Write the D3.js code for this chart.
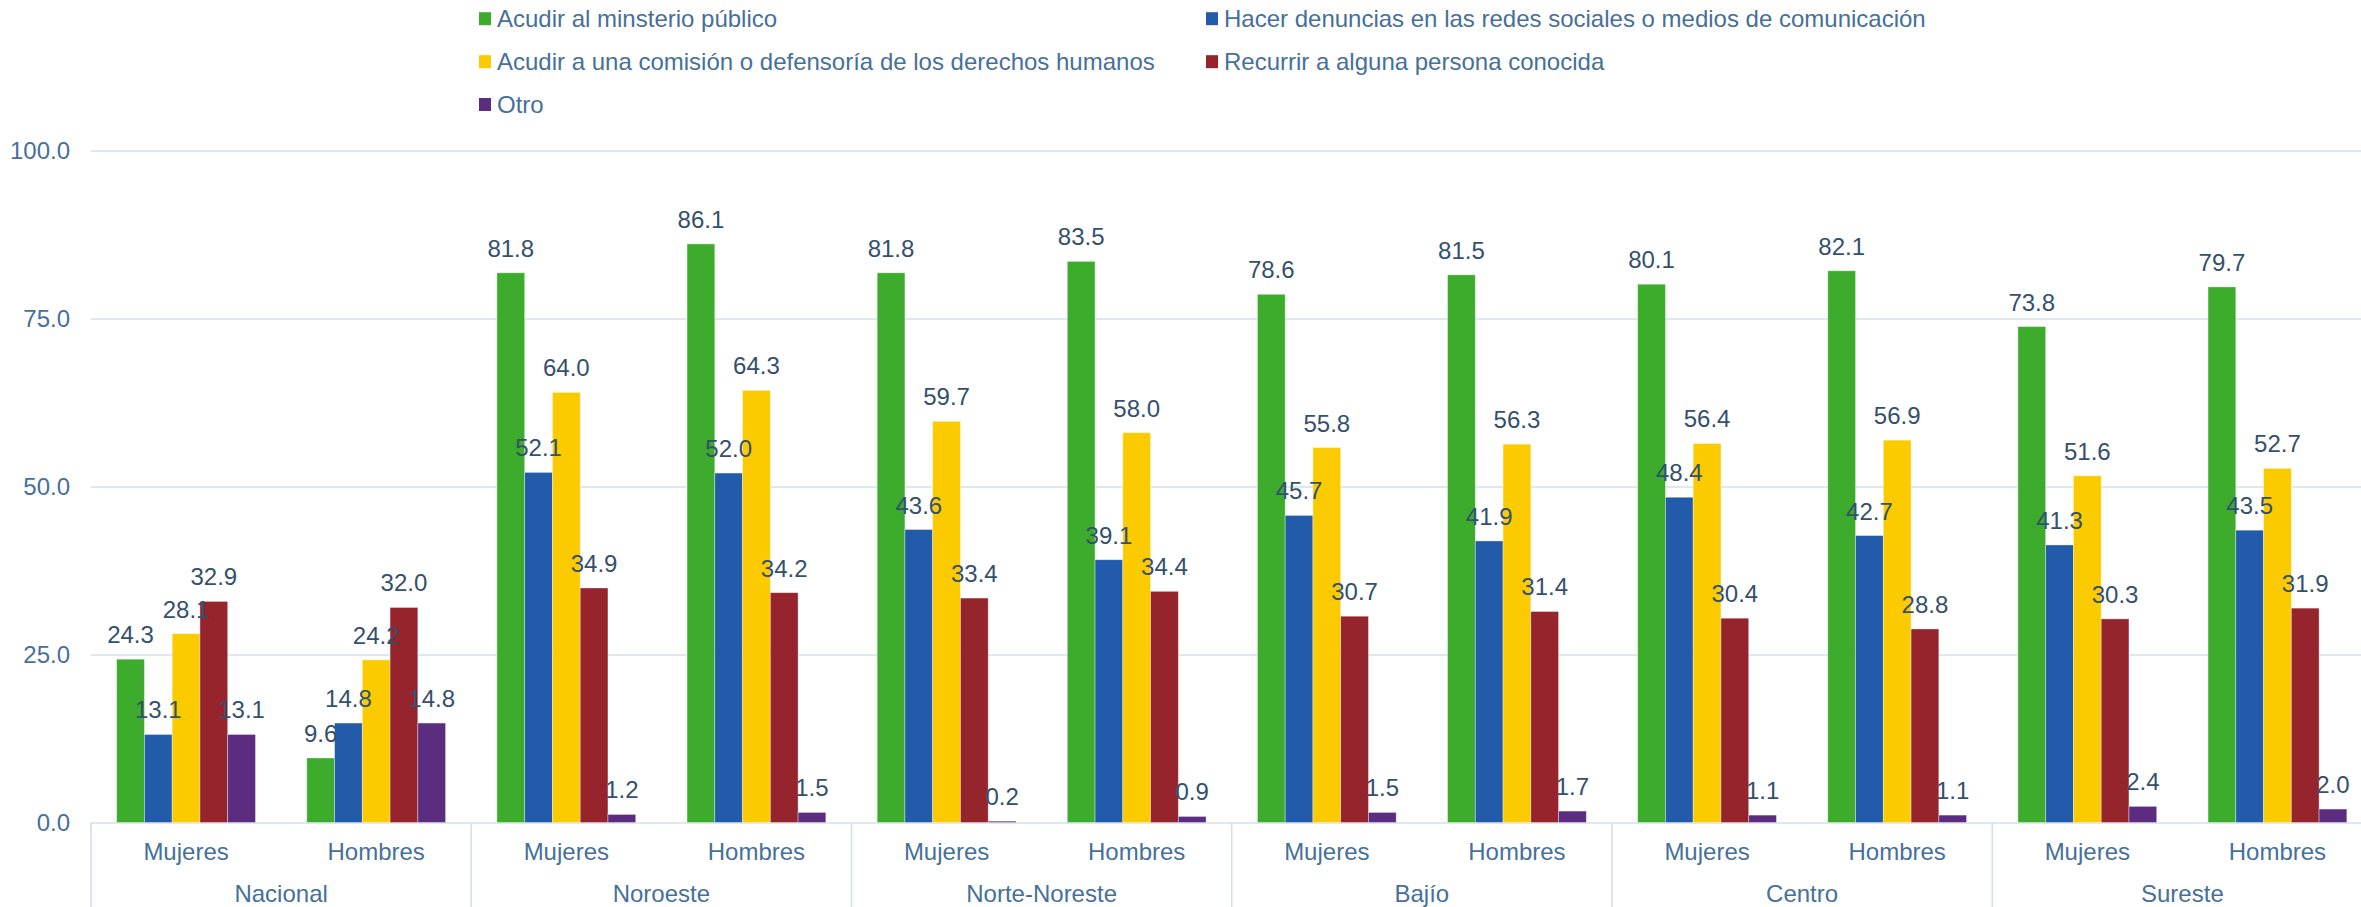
<!DOCTYPE html>
<html><head><meta charset="utf-8">
<script src="https://cdn.jsdelivr.net/npm/d3@7/dist/d3.min.js"></script>
<style>
body{margin:0;background:#fff;overflow:hidden}
text{font-family:"Liberation Sans",Arial,Helvetica,sans-serif}
</style>
</head><body>
<svg id="chart" width="2361" height="907"></svg>
<script>
const regions = ["Nacional","Noroeste","Norte-Noreste","Bajío","Centro","Sureste"];
const sexes = ["Mujeres","Hombres"];
const seriesNames = [
  "Acudir al minsterio público",
  "Hacer denuncias en las redes sociales o medios de comunicación",
  "Acudir a una comisión o defensoría de los derechos humanos",
  "Recurrir a alguna persona conocida",
  "Otro"
];
const seriesColors = ["#3dac2c","#215ba9","#fbcb00","#95242d","#5b2c80"];
// values per (region, sex): Nacional M, Nacional H, Noroeste M, ...
const ministerio = [24.3,9.6,81.8,86.1,81.8,83.5,78.6,81.5,80.1,82.1,73.8,79.7];
const denuncias  = [13.1,14.8,52.1,52.0,43.6,39.1,45.7,41.9,48.4,42.7,41.3,43.5];
const comision   = [28.1,24.2,64.0,64.3,59.7,58.0,55.8,56.3,56.4,56.9,51.6,52.7];
const conocida   = [32.9,32.0,34.9,34.2,33.4,34.4,30.7,31.4,30.4,28.8,30.3,31.9];
const otro       = [13.1,14.8,1.2,1.5,0.2,0.9,1.5,1.7,1.1,1.1,2.4,2.0];
const yTicks = [0,25,50,75,100];

(function(){
const seriesValues = [ministerio, denuncias, comision, conocida, otro];

const svg = d3.select("#chart");
const pL = 91, pR = 2372.5, pT = 150.5, pB = 822.5;
const gridColor = "#d5e0eb";
const tickColor = "#46709a";
const labelColor = "#34506d";

const x0 = d3.scaleBand().domain(regions).range([pL, pR]).padding(0);
const x1 = d3.scaleBand().domain(sexes).range([0, x0.bandwidth()]).padding(0);
const gap = x1.bandwidth() * 0.135;
const x2 = d3.scaleBand().domain(d3.range(seriesNames.length)).range([gap, x1.bandwidth() - gap]).padding(0);
const y = d3.scaleLinear().domain([0, 100]).range([pB, pT]);

// gridlines + y tick labels
const yAxis = d3.axisLeft(y).tickValues(yTicks).tickFormat(d3.format(".1f"))
  .tickSize(-(pR - pL)).tickPadding(21);
const gy = svg.append("g").attr("transform", `translate(${pL},0)`).call(yAxis);
gy.select(".domain").remove();
gy.selectAll(".tick line").attr("stroke", gridColor).attr("stroke-width", 1.6);
gy.selectAll(".tick text").attr("fill", tickColor).attr("font-size", 24)
  .style("font-family", '"Liberation Sans",Arial,sans-serif');

// category separators
const seps = regions.map(r => x0(r)).concat([pR]);
svg.append("g").selectAll("line").data(seps).join("line")
  .attr("x1", d => d).attr("x2", d => d)
  .attr("y1", pB).attr("y2", 907)
  .attr("stroke", gridColor).attr("stroke-width", 1.6);

// bars
const items = [];
regions.forEach((r, ri) => sexes.forEach((s, si) => {
  const idx = ri * 2 + si;
  seriesValues.forEach((arr, k) => items.push({r, s, k, v: arr[idx]}));
}));

const bx = d => x0(d.r) + x1(d.s) + x2(d.k);
svg.append("g").selectAll("rect").data(items).join("rect")
  .attr("x", bx)
  .attr("y", d => y(d.v))
  .attr("width", x2.bandwidth())
  .attr("height", d => y(0) - y(d.v))
  .attr("fill", d => seriesColors[d.k])
  .attr("stroke", "#ffffff").attr("stroke-opacity", 0.45).attr("stroke-width", 0.8);

// data labels
svg.append("g").selectAll("text").data(items).join("text")
  .attr("x", d => bx(d) + x2.bandwidth() / 2)
  .attr("y", d => y(d.v) - 16)
  .attr("text-anchor", "middle")
  .attr("font-size", 24)
  .attr("fill", labelColor)
  .text(d => d3.format(".1f")(d.v));

// sub-category labels
const subs = [];
regions.forEach(r => sexes.forEach(s => subs.push({r, s})));
svg.append("g").selectAll("text").data(subs).join("text")
  .attr("x", d => x0(d.r) + x1(d.s) + x1.bandwidth() / 2)
  .attr("y", 851.5)
  .attr("dy", "0.35em")
  .attr("text-anchor", "middle")
  .attr("font-size", 24)
  .attr("fill", tickColor)
  .text(d => d.s);

// region labels
svg.append("g").selectAll("text").data(regions).join("text")
  .attr("x", d => x0(d) + x0.bandwidth() / 2)
  .attr("y", 894)
  .attr("dy", "0.35em")
  .attr("text-anchor", "middle")
  .attr("font-size", 24)
  .attr("fill", tickColor)
  .text(d => d);

// legend
const legendCols = [479, 1206];
const legendRows = [18.7, 61.7, 104.5];
const lg = svg.append("g").selectAll("g").data(seriesNames).join("g")
  .attr("transform", (d, i) => `translate(${legendCols[i % 2]},${legendRows[Math.floor(i / 2)]})`);
lg.append("rect").attr("x", 0).attr("y", -6.5).attr("width", 12).attr("height", 13)
  .attr("fill", (d, i) => seriesColors[i]);
lg.append("text").attr("x", 18).attr("dy", "0.35em").attr("font-size", 24)
  .attr("fill", tickColor).text(d => d);
})();
</script>
</body></html>
